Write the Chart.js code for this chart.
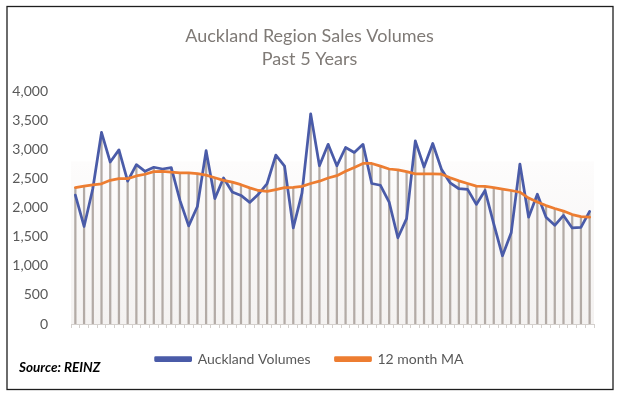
<!DOCTYPE html>
<html>
<head>
<meta charset="utf-8">
<script src="https://cdn.jsdelivr.net/npm/chart.js@4"></script>
<style>
  html, body { margin: 0; padding: 0; background: #fff; }
  #wrap { width: 619px; height: 397px; }
</style>
</head>
<body>
<div id="wrap"><canvas id="salesChart" width="619" height="397"></canvas></div>
<script>
// Monthly sales volumes, last 5 years
const monthLabels = Array.from({ length: 60 }, (_, i) => "Month " + (i + 1));

const aucklandVolumes = [
  2220, 1680, 2330, 3300, 2790, 3000, 2460, 2745, 2630, 2700, 2670, 2695,
  2130, 1690, 2025, 2985, 2160, 2515, 2275, 2215, 2095, 2235, 2420, 2910,
  2720, 1655, 2255, 3620, 2725, 3095, 2725, 3040, 2955, 3095, 2420, 2390,
  2100, 1485, 1815, 3155, 2705, 3110, 2665, 2430, 2330, 2320, 2060, 2300,
  1725, 1175, 1570, 2755, 1840, 2235, 1840, 1700, 1870, 1655, 1665, 1940,
];

const movingAverage = [
  2350, 2375, 2395, 2415, 2475, 2505, 2505, 2550, 2580, 2625, 2630, 2615,
  2605, 2605, 2590, 2565, 2520, 2475, 2445, 2400, 2345, 2300, 2285, 2315,
  2350, 2355, 2370, 2420, 2460, 2515, 2555, 2630, 2695, 2765, 2765, 2720,
  2670, 2655, 2625, 2585, 2585, 2585, 2580, 2520, 2465, 2420, 2375, 2370,
  2350, 2325, 2300, 2270, 2170, 2100, 2040, 1990, 1945, 1885, 1850, 1840,
];

const yTicks = [0, 500, 1000, 1500, 2000, 2500, 3000, 3500, 4000];

// Drop lines run from the higher of the two series down to the axis
const dropLines = aucklandVolumes.map((v, i) => Math.max(v, movingAverage[i]));

// Soft shaded plot background + outer frame + source note
const decorPlugin = {
  id: "decor",
  afterLayout(chart) {
    // center title and legend on the whole frame, lift legend a bit
    const t = chart.titleBlock;
    t.left = 17;
    t.right = chart.width - 17;
    t.width = t.right - t.left;
    const lg = chart.legend;
    lg.left = 17;
    lg.right = chart.width - 17;
    lg.width = lg.right - lg.left;
    lg.top -= 9;
    lg.bottom -= 9;
  },
  beforeDatasetsDraw(chart) {
    const { ctx, chartArea, scales } = chart;
    const top = scales.y.getPixelForValue(2800);
    const g = ctx.createLinearGradient(0, top, 0, chartArea.bottom);
    g.addColorStop(0, "#fdfcfc");
    g.addColorStop(1, "#f4f2f1");
    ctx.save();
    ctx.fillStyle = g;
    ctx.fillRect(chartArea.left, top, chartArea.right - chartArea.left, chartArea.bottom - top);
    ctx.restore();
  },
  afterDraw(chart) {
    const ctx = chart.ctx;
    ctx.save();
    ctx.strokeStyle = "#1e1e1e";
    ctx.lineWidth = 1.3;
    ctx.strokeRect(7, 6.5, chart.width - 13, chart.height - 14);
    ctx.fillStyle = "#000";
    ctx.font = "italic bold 13.5px Lato";
    ctx.textBaseline = "middle";
    ctx.fillText("Source: REINZ", 19, 368);
    ctx.restore();
  },
};

const ctx = document.getElementById("salesChart").getContext("2d");
const salesChart = new Chart(ctx, {
  data: {
    labels: monthLabels,
    datasets: [
      {
        type: "line",
        label: "Auckland Volumes",
        data: aucklandVolumes,
        borderColor: "#4a5ba8",
        backgroundColor: "#4a5ba8",
        borderWidth: 2.75,
        pointRadius: 0,
        tension: 0,
        borderJoinStyle: "round",
        borderCapStyle: "round",
        order: 2,
      },
      {
        type: "line",
        label: "12 month MA",
        data: movingAverage,
        borderColor: "#ed7d31",
        backgroundColor: "#ed7d31",
        borderWidth: 2.75,
        pointRadius: 0,
        tension: 0,
        borderJoinStyle: "round",
        borderCapStyle: "round",
        order: 1,
      },
      {
        type: "bar",
        label: "drop",
        data: dropLines,
        backgroundColor: "#b3aba6",
        barThickness: 1.6,
        order: 3,
      },
    ],
  },
  options: {
    responsive: false,
    animation: false,
    layout: {
      padding: { left: 10, right: 25, top: 12, bottom: 12 },
    },
    scales: {
      x: {
        offset: true,
        grid: {
          display: true,
          offset: true,
          drawOnChartArea: false,
          drawTicks: true,
          tickLength: 4,
          color: "#d4d0cd",
        },
        border: { display: true, color: "#d4d0cd" },
        ticks: { callback: () => "", autoSkip: false, maxRotation: 0 },
        afterFit: (scale) => {
          scale.height = 12;
        },
      },
      y: {
        min: 0,
        max: 4000,
        afterBuildTicks: (scale) => {
          scale.ticks = yTicks.map((v) => ({ value: v }));
        },
        grid: { display: false },
        border: { display: false },
        ticks: {
          padding: 15,
          color: "#595959",
          font: { family: "Lato", size: 14 },
          callback: (value) => value.toLocaleString("en-US"),
        },
        afterFit: (scale) => {
          scale.width = 61;
        },
      },
    },
    plugins: {
      title: {
        display: true,
        text: ["Auckland Region Sales Volumes", "Past 5 Years"],
        color: "#7f7a76",
        font: { family: "Lato", size: 18, weight: "normal", lineHeight: 1.3 },
        padding: { top: 12, bottom: 21 },
      },
      legend: {
        position: "bottom",
        labels: {
          filter: (item) => item.text !== "drop",
          sort: (a, b) => a.datasetIndex - b.datasetIndex,
          boxWidth: 35,
          boxHeight: 3,
          padding: 25,
          color: "#595959",
          font: { family: "Lato", size: 14 },
        },
      },
      tooltip: { enabled: false },
    },
  },
  plugins: [decorPlugin],
});
</script>
</body>
</html>
